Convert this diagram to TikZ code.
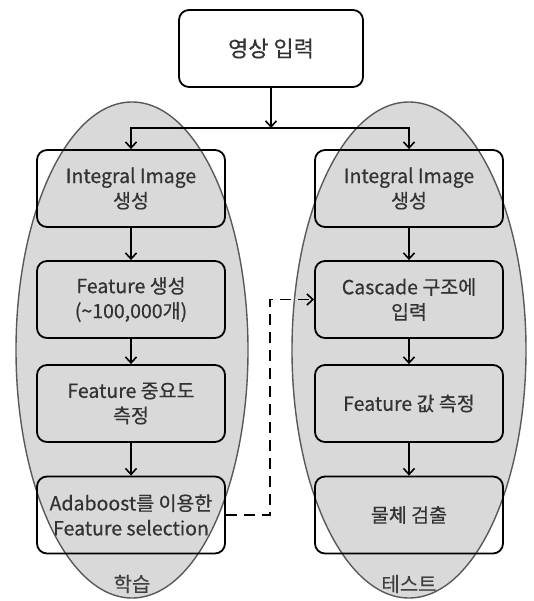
\documentclass[tikz,border=0pt]{standalone}
\usepackage{fontspec}
\setmainfont[FakeBold=0.5]{Noto Sans CJK KR}
\usetikzlibrary{arrows.meta}

\begin{document}
\begin{tikzpicture}[x=1pt,y=-1pt,
		stage/.style={draw,line width=1.8pt,rounded corners=10pt,minimum width=188pt,minimum height=77pt,
			inner sep=0pt,align=center,text=black!80,font=\fontsize{19.5}{25}\selectfont},
		zone/.style={fill=black!15,draw=black!65,line width=1.4pt},
		flow/.style={line width=1.6pt,-{Straight Barb[length=6pt,width=11pt,line width=1.6pt]}},
		dashlink/.style={flow,dash pattern=on 11pt off 7pt},
		tag/.style={text=black!75,font=\fontsize{20}{22}\selectfont}]
	\useasboundingbox (0,0) rectangle (534,601);
	% two phase regions
	\draw[zone] (132,350) ellipse [x radius=116pt,y radius=248pt];
	\draw[zone] (409,350) ellipse [x radius=117pt,y radius=248pt];
	\node[tag] (learn) at (132,584) {학습};
	\node[tag] (test) at (409,584) {테스트};
	% input
	\node[stage,minimum width=184pt,font=\fontsize{22}{25}\selectfont] (input) at (271,48.5) {영상 입력};
	% learning column
	\node[stage] (l1) at (131,188.5) {Integral Image\\생성};
	\node[stage] (l2) at (131,299.5) {Feature 생성\\(\textasciitilde100,000개)};
	\node[stage] (l3) at (131,403.5) {Feature 중요도\\측정};
	\node[stage] (l4) at (131,515) {Adaboost를 이용한\\Feature selection};
	% test column
	\node[stage] (r1) at (409,188.5) {Integral Image\\생성};
	\node[stage] (r2) at (409,299.5) {Cascade 구조에\\입력};
	\node[stage] (r3) at (409,403.5) {Feature 값 측정};
	\node[stage] (r4) at (409,515) {물체 검출};
	% links
	\coordinate (split) at (271,128);
	\coordinate (jog) at (270,0);
	\draw[flow] (input) -- (split);
	\draw[line width=1.6pt] (l1.north |- split) -- (r1.north |- split);
	\draw[flow] (split) -| (l1);
	\draw[flow] (split) -| (r1);
	\draw[flow] (l1) -- (l2);
	\draw[flow] (l2) -- (l3);
	\draw[flow] (l3) -- (l4);
	\draw[flow] (r1) -- (r2);
	\draw[flow] (r2) -- (r3);
	\draw[flow] (r3) -- (r4);
	\draw[dashlink] (l4.east) -| (jog |- r2.west) -- (r2.west);
\end{tikzpicture}
\end{document}
